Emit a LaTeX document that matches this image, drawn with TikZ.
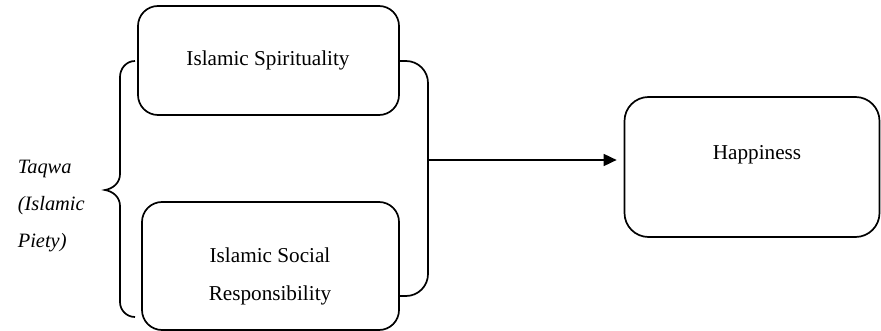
\documentclass[tikz,border=0pt]{standalone}
\usepackage{fontspec}
\setmainfont{Liberation Serif}
\usetikzlibrary{arrows.meta}
\begin{document}
\begin{tikzpicture}[x=0.5pt, y=-0.5pt, line width=0.85pt,
    box/.style = {draw, rounded corners=10pt},
    txt/.style = {font=\fontsize{10.6}{19}\selectfont, align=center, inner sep=0pt}]
    \useasboundingbox (0,0) rectangle (881,331);

    \node[box, minimum width=130.5pt, minimum height=54.5pt] (spirit) at (268.5,60.5) {};
    \node[box, minimum width=128.5pt, minimum height=64pt] (social) at (270.5,266) {};
    \node[box, rounded corners=12pt, minimum width=127.5pt, minimum height=70pt] (happy) at (752,167) {};

    \node[txt] (spirittxt) at (268,60) {Islamic Spirituality};
    \node[txt] (socialtxt) at (270,276) {Islamic Social\\Responsibility};
    \node[txt] (happytxt) at (757,155) {Happiness};
    \node[txt, align=left, anchor=north west, font=\fontsize{10.2}{18.5}\selectfont\itshape] (taqwa) at (17,159) {Taqwa\\(Islamic\\Piety)};

    \draw (135,61) to[out=180,in=90] (120,77) -- (120,174) to[out=-90,in=10] (105,190)
        to[out=-10,in=90] (120,206) -- (120,302) to[out=-90,in=180] (135,317);

    \coordinate (join) at (428,160);
    \draw[rounded corners=11pt] (spirit.east |- 0,61) -- (428,61) -- (428,296) -- (social.east |- 0,296);
    \draw[-{Triangle[length=6.5pt,width=6pt]}, shorten >=3.5pt] (join) -- (join -| happy.west);
\end{tikzpicture}
\end{document}
